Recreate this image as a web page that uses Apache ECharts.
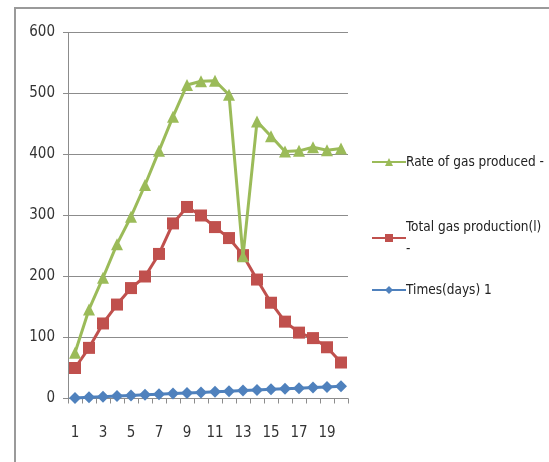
<!DOCTYPE html>
<html>
<head>
<meta charset="utf-8">
<title>Gas production</title>
<script src="https://cdn.jsdelivr.net/npm/echarts@6/dist/echarts.min.js"></script>
<style>
  html, body { margin: 0; padding: 0; background: #ffffff; }
  #chart { width: 549px; height: 462px; }
</style>
</head>
<body>
<div id="chart"></div>
<script>
// Days of the digestion run
const days = ['1','2','3','4','5','6','7','8','9','10','11','12','13','14','15','16','17','18','19','20'];

// Rate of gas produced
const rateOfGas = [75, 146, 198, 253, 298, 350, 406, 462, 514, 520, 521, 498, 233, 454, 430, 405, 406, 412, 407, 410];

// Total gas production (l)
const totalGas = [50, 83, 123, 154, 181, 200, 237, 287, 314, 300, 281, 263, 235, 195, 157, 126, 108, 99, 84, 59];

// Time in days
const timesDays = [1, 2, 3, 4, 5, 6, 7, 8, 9, 10, 11, 12, 13, 14, 15, 16, 17, 18, 19, 20];

const seriesNames = ['Rate of gas produced -', 'Total gas production(l)\n-', 'Times(days) 1'];
const seriesColors = ['#9bbb59', '#c0504d', '#4f81bd'];

const font = '"DejaVu Sans Condensed", "Liberation Sans", sans-serif';
const chart = echarts.init(document.getElementById('chart'), null, { renderer: 'canvas' });

function legendFor(name, top) {
  return {
    data: [name],
    left: 366,
    top: top,
    itemWidth: 34,
    itemHeight: 10,
    itemGap: 2,
    textStyle: { fontFamily: font, fontSize: 13.5, color: '#222222', lineHeight: 22, padding: [0, 0, 0, -5] }
  };
}

chart.setOption({
  animation: false,
  backgroundColor: '#ffffff',
  graphic: [{
    type: 'rect',
    shape: { x: 15, y: 8, width: 560, height: 470 },
    style: { fill: 'none', stroke: '#9a9a9a', lineWidth: 2 },
    silent: true
  }],
  legend: [
    legendFor(seriesNames[0], 146),
    legendFor(seriesNames[1], 211),
    legendFor(seriesNames[2], 274)
  ],
  grid: { left: 68, right: 201, top: 32.5, bottom: 63.5, containLabel: false },
  xAxis: {
    type: 'category',
    data: days,
    boundaryGap: true,
    axisLine: { lineStyle: { color: '#8c8c8c', width: 1 } },
    axisTick: { show: true, interval: 0, length: 5, lineStyle: { color: '#8c8c8c' } },
    axisLabel: { interval: 1, margin: 27, fontFamily: font, fontSize: 15, color: '#333333' }
  },
  yAxis: {
    type: 'value',
    min: 0,
    max: 600,
    interval: 100,
    axisLine: { show: true, lineStyle: { color: '#8c8c8c', width: 1 } },
    axisTick: { show: true, length: 5, lineStyle: { color: '#8c8c8c' } },
    splitLine: { lineStyle: { color: '#8c8c8c', width: 1 } },
    axisLabel: { margin: 13, fontFamily: font, fontSize: 15, color: '#333333' }
  },
  series: [
    {
      name: seriesNames[0],
      type: 'line',
      data: rateOfGas,
      symbol: 'triangle',
      symbolSize: 12,
      showAllSymbol: true,
      z: 3,
      lineStyle: { color: seriesColors[0], width: 3 },
      itemStyle: { color: seriesColors[0] }
    },
    {
      name: seriesNames[1],
      type: 'line',
      data: totalGas,
      symbol: 'rect',
      symbolSize: 12,
      showAllSymbol: true,
      z: 2,
      lineStyle: { color: seriesColors[1], width: 3 },
      itemStyle: { color: seriesColors[1] }
    },
    {
      name: seriesNames[2],
      type: 'line',
      data: timesDays,
      symbol: 'diamond',
      symbolSize: 12,
      showAllSymbol: true,
      z: 1,
      lineStyle: { color: seriesColors[2], width: 3 },
      itemStyle: { color: seriesColors[2] }
    }
  ]
});
</script>
</body>
</html>
